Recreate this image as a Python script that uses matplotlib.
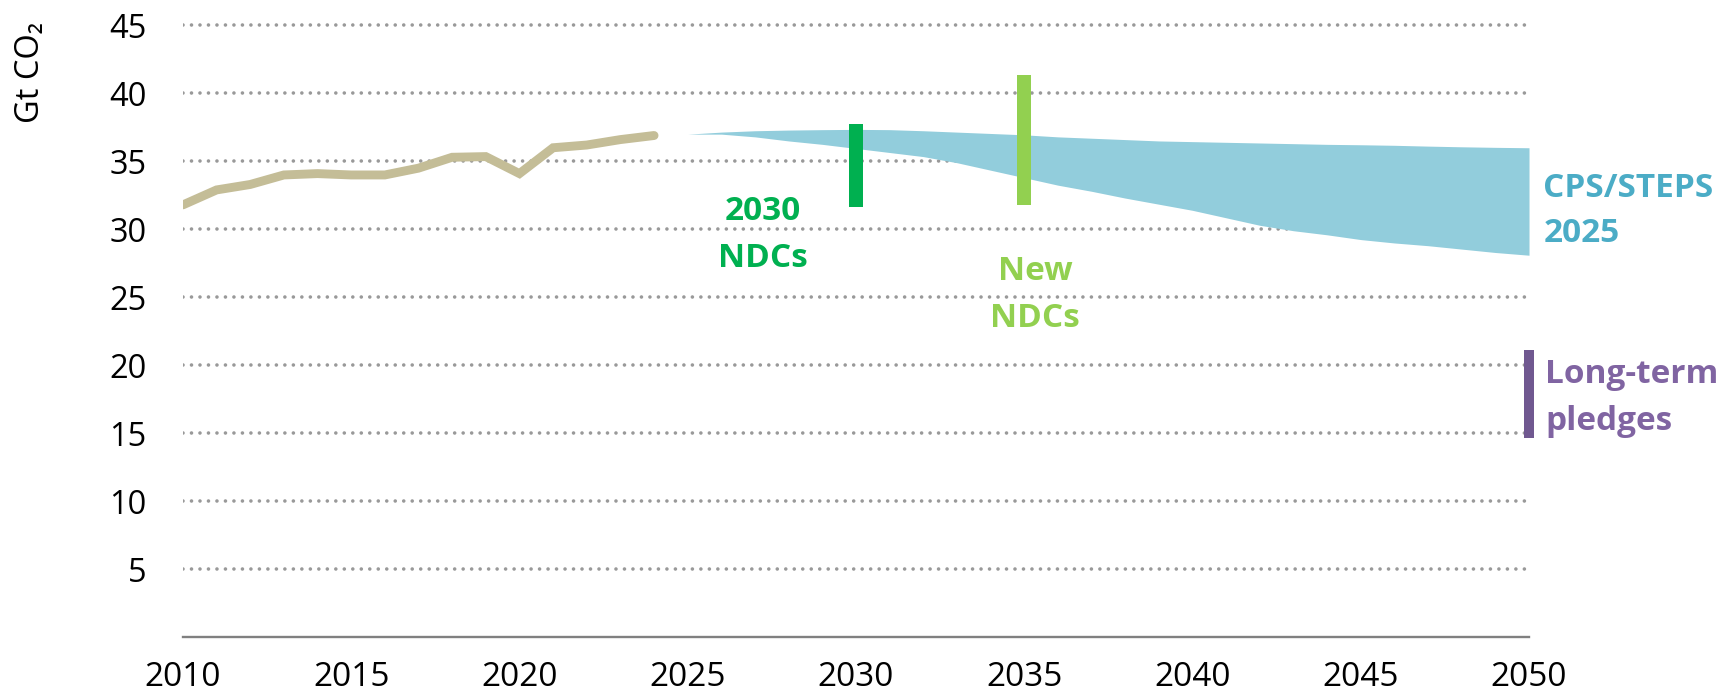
import matplotlib
matplotlib.use("Agg")
import matplotlib.pyplot as plt

# historical emissions (Gt CO2)
hist_years = list(range(2010, 2025))
hist_values = [31.8, 32.9, 33.3, 34.0, 34.1, 34.0, 34.0, 34.5, 35.3, 35.35,
               34.1, 36.0, 36.2, 36.6, 36.9]

# CPS/STEPS 2025 range
band_years = list(range(2025, 2051))
band_upper = [37.0, 37.15, 37.25, 37.3, 37.33, 37.35, 37.33, 37.25, 37.15, 37.05,
              36.95, 36.8, 36.7, 36.6, 36.5, 36.45, 36.4, 36.35, 36.3, 36.25,
              36.22, 36.18, 36.12, 36.07, 36.03, 36.0]
band_lower = [37.0, 37.0, 36.8, 36.5, 36.25, 35.95, 35.65, 35.35, 34.9, 34.35,
              33.8, 33.25, 32.8, 32.3, 31.85, 31.4, 30.85, 30.3, 29.9, 29.6,
              29.25, 29.0, 28.8, 28.55, 28.3, 28.1]

# pledge ranges: year, low, high
ndc2030 = (2030, 31.65, 37.73)
ndc_new = (2035, 31.78, 41.33)
long_term = (2050, 14.64, 21.12)

x_ticks = [2010, 2015, 2020, 2025, 2030, 2035, 2040, 2045, 2050]
y_ticks = [5, 10, 15, 20, 25, 30, 35, 40, 45]

plt.rcParams['font.family'] = ['Open Sans', 'DejaVu Sans']

fig = plt.figure(figsize=(17.24, 6.93), dpi=100)
ax = fig.add_axes([0.1061, 0.0801, 0.7808, 0.9030])

ax.fill_between(band_years, band_lower, band_upper, color='#92CDDC', lw=0, zorder=2)

ax.bar(ndc2030[0], ndc2030[2] - ndc2030[1], bottom=ndc2030[1], width=0.42,
       color='#00B050', zorder=3)
ax.bar(ndc_new[0], ndc_new[2] - ndc_new[1], bottom=ndc_new[1], width=0.42,
       color='#92D050', zorder=3)
ax.bar(long_term[0], long_term[2] - long_term[1], bottom=long_term[1], width=0.28,
       color='#705890', zorder=3, clip_on=False)

ax.plot(hist_years, hist_values, color='#C4BD97', lw=6.4,
        solid_capstyle='round', solid_joinstyle='miter', zorder=4)

ax.set_xlim(2010, 2050)
ax.set_ylim(0, 46)
ax.set_xticks(x_ticks)
ax.set_yticks(y_ticks)
ax.tick_params(axis='y', length=0, pad=26, labelsize=23.5)
ax.tick_params(axis='x', length=0, pad=17, labelsize=24)
ax.yaxis.grid(True, color='#999999', lw=2.6, linestyle=(0, (0.001, 2.35)),
              dash_capstyle='round', zorder=1)
ax.set_axisbelow(True)
for s in ['left', 'top', 'right']:
    ax.spines[s].set_visible(False)
ax.spines['bottom'].set_color('#808080')
ax.spines['bottom'].set_linewidth(1.7)

fig.text(0.0175, 0.896, 'Gt CO₂', rotation=90, ha='center', va='center', fontsize=23.5)

bold = dict(fontsize=24, fontweight='bold', va='baseline')
ax.text(2027.24, 30.69, '2030', color='#00B050', ha='center', **bold)
ax.text(2027.24, 27.25, 'NDCs', color='#00B050', ha='center', **bold)
ax.text(2035.33, 26.28, 'New', color='#92D050', ha='center', **bold)
ax.text(2035.33, 22.84, 'NDCs', color='#92D050', ha='center', **bold)
ax.text(2050.43, 32.40, 'CPS/STEPS', color='#4BACC6', ha='left', clip_on=False, **bold)
ax.text(2050.43, 29.09, '2025', color='#4BACC6', ha='left', clip_on=False, **bold)
ax.text(2050.48, 18.71, 'Long-term', color='#8064A2', ha='left', clip_on=False, **bold)
ax.text(2050.48, 15.25, 'pledges', color='#8064A2', ha='left', clip_on=False, **bold)

fig.savefig('out.png', dpi=100)
